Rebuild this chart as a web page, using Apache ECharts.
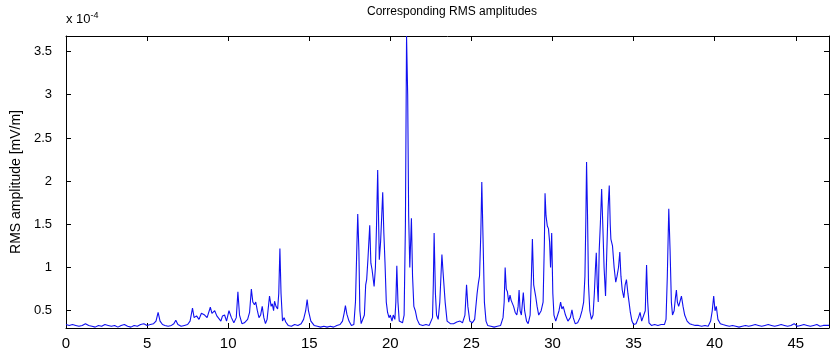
<!DOCTYPE html>
<html>
<head>
<meta charset="utf-8">
<script src="https://cdn.jsdelivr.net/npm/echarts@6/dist/echarts.min.js"></script>
<style>
html,body{margin:0;padding:0;background:#fff;}
#c{width:831px;height:353px;}
</style>
</head>
<body>
<div id="c"></div>
<script>
// Time axis positions (s) and RMS amplitudes (x 1e-4 mV/m)
var times = [0,0.2,0.4,0.6,0.8,1.0,1.2,1.4,1.6,1.8,2.0,2.2,2.4,2.6,2.8,3.0,3.2,3.4,3.6,3.8,4.0,4.2,4.4,4.6,4.8,5.0,5.2,5.4,
5.55,5.68,5.8,5.95,6.1,6.3,6.5,6.65,6.77,6.9,7.1,7.3,7.5,7.65,7.8,7.9,8.05,8.2,8.35,8.55,8.7,8.9,9.0,9.17,9.3,9.4,9.55,9.65,9.78,9.9,10.05,10.2,10.35,10.5,10.6,10.7,10.85,11.0,11.2,11.32,11.43,11.52,11.62,11.7,11.8,11.9,12.0,12.1,12.2,12.3,12.4,12.55,12.65,12.72,12.8,12.86,12.95,13.05,13.12,13.19,13.26,13.35,13.45,13.55,13.7,13.9,14.1,14.3,14.5,14.65,14.78,14.87,14.95,15.1,15.3,15.5,15.7,15.9,16.1,16.3,16.5,16.7,16.9,17.05,17.15,17.23,17.32,17.45,17.6,17.75,17.85,17.93,17.99,18.06,18.12,18.2,18.3,18.4,18.48,18.54,18.62,18.73,18.8,18.87,18.93,19.0,19.08,19.15,19.22,19.28,19.32,19.4,19.47,19.53,19.6,19.67,19.75,19.83,19.92,20.0,20.1,20.18,20.28,20.34,20.4,20.47,20.55,20.65,20.75,20.85,20.93,21.0,21.07,21.13,21.2,21.3,21.37,21.45,21.54,21.65,21.8,22.0,22.2,22.4,22.5,22.6,22.65,22.7,22.78,22.85,22.95,23.05,23.18,23.25,23.3,23.38,23.5,23.7,23.9,24.1,24.3,24.45,24.6,24.7,24.78,24.9,25.05,25.2,25.35,25.43,25.5,25.58,25.64,25.72,25.8,25.9,26.0,26.2,26.4,26.6,26.8,26.95,27.02,27.08,27.15,27.22,27.3,27.38,27.45,27.53,27.6,27.7,27.8,27.88,27.94,28.0,28.08,28.2,28.28,28.4,28.5,28.62,28.7,28.76,28.84,28.96,29.05,29.15,29.3,29.42,29.5,29.54,29.6,29.68,29.75,29.82,29.88,29.95,30.02,30.09,30.2,30.3,30.4,30.5,30.58,30.66,30.8,30.95,31.1,31.2,31.28,31.4,31.55,31.7,31.82,31.92,32.0,32.06,32.1,32.16,32.22,32.3,32.4,32.5,32.58,32.65,32.7,32.76,32.82,32.88,32.95,33.03,33.1,33.18,33.27,33.35,33.43,33.5,33.56,33.6,33.7,33.8,33.9,33.98,34.07,34.15,34.22,34.3,34.4,34.48,34.56,34.65,34.72,34.8,34.9,35.0,35.15,35.3,35.4,35.5,35.62,35.72,35.8,35.87,35.95,36.1,36.3,36.5,36.7,36.9,37.0,37.08,37.17,37.25,37.33,37.4,37.5,37.58,37.64,37.7,37.78,37.88,37.95,38.05,38.15,38.3,38.45,38.6,38.8,39.0,39.2,39.4,39.6,39.75,39.85,39.94,40.02,40.1,40.2,40.35,40.5,40.7,
40.9,41.1,41.3,41.5,41.7,41.9,42.1,42.3,42.5,42.7,42.9,43.1,43.3,43.5,43.7,43.9,44.1,44.3,44.5,44.7,44.9,45.1,45.3,45.5,45.7,45.9,46.1,46.3,46.5,46.7,46.9,47.05];
var amps = [0.34,0.33,0.34,0.33,0.32,0.33,0.35,0.33,0.32,0.31,0.33,0.32,0.34,0.33,0.32,0.33,0.31,0.33,0.34,0.32,0.31,0.33,0.32,0.34,0.35,0.33,0.34,0.35,
0.38,0.48,0.38,0.34,0.33,0.32,0.33,0.35,0.39,0.34,0.32,0.33,0.34,0.38,0.53,0.42,0.44,0.40,0.47,0.45,0.42,0.54,0.47,0.50,0.44,0.46,0.38,0.44,0.45,0.38,0.50,0.42,0.36,0.42,0.72,0.45,0.35,0.36,0.40,0.48,0.75,0.60,0.57,0.60,0.50,0.42,0.45,0.55,0.42,0.35,0.40,0.67,0.55,0.58,0.50,0.61,0.55,0.52,0.70,1.22,0.70,0.38,0.42,0.37,0.33,0.32,0.34,0.33,0.35,0.40,0.50,0.63,0.50,0.38,0.33,0.32,0.31,0.32,0.31,0.32,0.31,0.33,0.34,0.38,0.47,0.56,0.46,0.38,0.33,0.34,0.60,1.20,1.62,1.20,0.50,0.35,0.34,0.45,0.80,0.86,1.10,1.49,1.05,0.98,1.00,0.78,1.00,1.50,2.13,1.50,1.09,1.30,1.60,1.87,1.40,1.06,0.60,0.48,0.42,0.45,0.38,0.45,0.40,0.60,1.02,0.60,0.38,0.36,0.36,0.45,1.50,3.68,3.00,1.60,1.00,1.57,0.90,0.55,0.50,0.40,0.34,0.33,0.34,0.33,0.35,0.42,0.80,1.40,0.70,0.45,0.40,0.60,1.15,0.95,0.94,0.60,0.38,0.35,0.35,0.37,0.38,0.36,0.45,0.80,0.55,0.38,0.36,0.40,0.70,0.82,0.90,1.40,1.99,1.30,0.60,0.38,0.33,0.32,0.31,0.32,0.33,0.42,0.60,1.00,0.75,0.72,0.60,0.68,0.62,0.63,0.55,0.48,0.45,0.55,0.74,0.50,0.45,0.71,0.50,0.38,0.35,0.45,0.90,1.33,0.80,0.67,0.55,0.45,0.50,0.60,1.30,1.86,1.60,1.48,1.45,1.30,1.00,1.40,0.70,0.45,0.38,0.40,0.50,0.60,0.52,0.55,0.45,0.38,0.42,0.51,0.42,0.35,0.36,0.42,0.50,0.60,0.90,1.60,2.22,1.60,0.80,0.50,0.40,0.45,0.70,1.00,1.17,0.80,0.60,1.20,1.50,1.91,1.50,1.00,0.67,1.20,1.70,1.95,1.50,1.33,1.25,1.00,0.83,0.90,1.00,1.18,0.90,0.74,0.65,0.80,0.86,0.70,0.60,0.48,0.38,0.34,0.35,0.42,0.48,0.38,0.36,0.50,1.03,0.60,0.36,0.33,0.34,0.33,0.34,0.34,0.40,0.90,1.68,1.20,0.60,0.45,0.50,0.65,0.74,0.60,0.55,0.62,0.67,0.55,0.45,0.38,0.35,0.34,0.33,0.33,0.32,0.33,0.32,0.38,0.50,0.67,0.50,0.55,0.40,0.35,0.34,0.33,
0.32,0.33,0.32,0.31,0.32,0.33,0.32,0.33,0.34,0.33,0.32,0.33,0.34,0.33,0.32,0.33,0.34,0.33,0.32,0.33,0.35,0.32,0.33,0.34,0.33,0.32,0.33,0.34,0.32,0.33,0.33,0.33];
var xTicks = [0,5,10,15,20,25,30,35,40,45];
var yTicks = [0.5,1,1.5,2,2.5,3,3.5];
var titleText = 'Corresponding RMS amplitudes';
var yName = 'RMS amplitude [mV/m]';

var seriesData = times.map(function(t,i){return [t, amps[i]];});
var FONT = '"Liberation Sans", Arial, sans-serif';
var X_MIN = 0, X_MAX = 47.05, Y_MIN = 0.3, Y_MAX = 3.68;

function axX(pos, labels){
  return {type:'value', position:pos, min:X_MIN, max:X_MAX,
    axisLine:{show:true, onZero:false, lineStyle:{color:'#000', width:1}},
    axisTick:{show:true, inside:true, length:5, customValues:xTicks, lineStyle:{color:'#000'}},
    axisLabel:{show:labels, customValues:xTicks, color:'#000', fontFamily:FONT, fontSize:15, margin:8},
    splitLine:{show:false}};
}
function axY(pos, labels){
  return {type:'value', position:pos, min:Y_MIN, max:Y_MAX,
    name: labels ? yName : '', nameLocation:'middle', nameGap:42, nameRotate:90,
    nameTextStyle:{color:'#000', fontFamily:FONT, fontSize:14},
    axisLine:{show:true, onZero:false, lineStyle:{color:'#000', width:1}},
    axisTick:{show:true, inside:true, length:5, customValues:yTicks, lineStyle:{color:'#000'}},
    axisLabel:{show:labels, customValues:yTicks, color:'#000', fontFamily:FONT, fontSize:13, margin:14},
    splitLine:{show:false}};
}

var chart = echarts.init(document.getElementById('c'), null, {renderer:'canvas'});
chart.setOption({
  backgroundColor:'#fff',
  animation:false,
  title:{text:titleText, left:447, top:1, textAlign:'center',
    textStyle:{color:'#000', fontFamily:FONT, fontSize:12, fontWeight:'normal'}},
  grid:{left:66, right:2, top:36, bottom:25, containLabel:false},
  xAxis:[axX('bottom', true), axX('top', false)],
  yAxis:[axY('left', true), axY('right', false)],
  graphic:[{type:'text', left:66, top:11, style:{
    text:'x 10{s|-4}', fill:'#000', font:'13px ' + FONT,
    rich:{s:{fontSize:9, fontFamily:FONT, fill:'#000', verticalAlign:'top', padding:[0,0,8,0]}}
  }}],
  series:[{type:'line', xAxisIndex:0, yAxisIndex:0, data:seriesData, showSymbol:false, symbol:'none',
    lineStyle:{color:'#1010f0', width:1.1}, smooth:false}]
});
</script>
</body>
</html>
